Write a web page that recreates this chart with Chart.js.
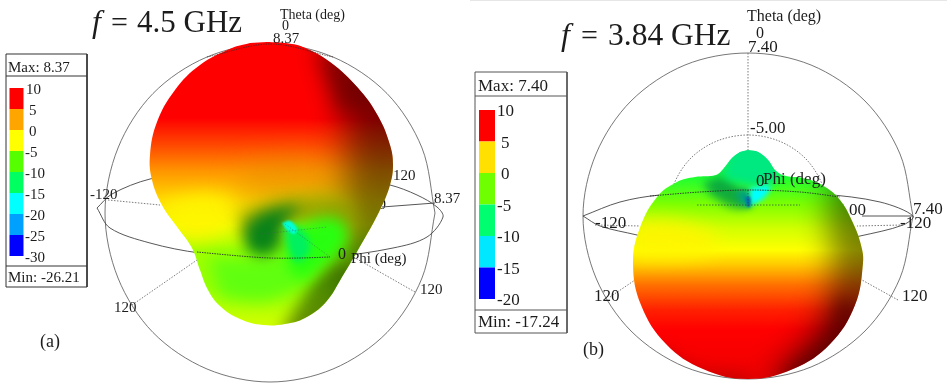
<!DOCTYPE html>
<html>
<head>
<meta charset="utf-8">
<style>html,body{margin:0;padding:0;background:#fff}canvas{display:block}</style>
<script src="https://cdn.jsdelivr.net/npm/chart.js@4"></script>
</head>
<body>
<canvas id="c" width="947" height="388"></canvas>
<script>
// values, all in picture units

// --- panel (a) ---
const sphereA = [[435,213],[422,148],[387,93.5],[333,57],[270,44],[207,57],[153,93.5],[118,148],[105,213],[118,278],[153,332.5],[207,369],[270,382],[333,369],[387,332.5],[422,278],[435,213]];
const ringA = [[97,208],[112,194],[150,179],[200,172],[270,170],[340,176],[390,185],[417,195],[437,207],[443,217],[427,237],[393,248],[330,257],[270,258],[200,253],[150,243],[110,228],[97,208]];
const ringFrontA = [[197,252],[240,256],[270,258],[300,258],[330,257]];
const lobeA = [[267,42],[285,43],[303,47],[330,62],[358,88],[378,116],[390,145],[393,165],[390,185],[380,210],[362,243],[342,277],[326,302],[305,318],[285,324],[263,325],[240,319],[220,306],[208,290],[200,270],[192,248],[178,228],[162,205],[152,180],[150,155],[157,122],[175,90],[200,65],[232,48],[250,43]];
const lobeStopsA = [[42,'#ff0000'],[118,'#ff0000'],[145,'#ff4800'],[172,'#ff9800'],[200,'#ffd800'],[225,'#f0ff00'],[250,'#a0ff00'],[285,'#98ff00'],[325,'#d0ff00']];
const spokesA = [[[108,200],[160,205]],[[132,305],[197,260]],[[415,292],[350,255]]];
const spokesOnA = [[[262,234],[327,227]],[[285,224],[330,257]]];
const axisRightA = [[435,203],[382,207]];
const patchesA = [
  {color:'rgba(255,245,0,.9)', blur:9, pts:[[160,205],[205,195],[235,205],[225,228],[190,240],[172,228]]},
  {color:'rgba(225,135,0,.45)', blur:14, pts:[[245,165],[310,160],[335,190],[270,205],[235,195]]},
  {color:'rgba(0,0,0,.5)', blur:17, pts:[[322,35],[410,35],[410,260],[350,300],[335,240],[345,170],[345,110]]},
  {color:'rgba(90,0,0,.55)', blur:9, pts:[[318,48],[352,70],[370,105],[338,112]]},
  {color:'rgba(40,80,0,.65)', blur:8, pts:[[295,310],[318,275],[345,262],[362,290],[315,335],[280,335]]},
  {color:'rgba(140,160,0,.85)', blur:8, pts:[[240,212],[295,196],[350,204],[352,236],[290,226],[240,238]]},
  {color:'#60ff10', blur:8, pts:[[208,258],[250,258],[300,258],[305,280],[270,300],[222,298]]},
  {color:'#28ff10', blur:7, pts:[[285,228],[335,218],[348,238],[325,265],[300,280],[285,262]]},
  {color:'rgba(0,125,25,.95)', blur:7, pts:[[245,226],[266,212],[300,208],[284,222],[280,246],[262,256],[245,248]]},
  {color:'#00f060', blur:3.5, pts:[[284,226],[300,228],[310,248],[297,262],[288,248]]},
  {color:'#00ffd8', blur:1.2, pts:[[282,223],[290,221],[297,229],[294,234],[286,229]]}
];
const scaleEdgesA = [88,109,130,151,172,193,214,235,256];
const scaleColorsA = ['#ff0000','#ffa500','#ffff00','#55ff00','#00ff60','#00ffff','#00a0ff','#0000ff'];
const scaleLabelsA = ['10','5','0','-5','-10','-15','-20','-25','-30'];
const boxA = [[6,54],[87,54],[87,287],[6,287],[6,54]];
const boxLinesA = [[[6,76],[87,76]],[[6,266],[87,266]]];

// --- panel (b) ---
const sphereB = [[913,216],[900,154],[865,101],[811,65],[748,53],[685,65],[631,101],[596,154],[583,216],[596,278],[631,331],[685,367],[748,379],[811,367],[865,331],[900,278],[913,216]];
const ringB = [[583,216],[620,202],[660,195],[748,190],[822,194],[880,202],[913,216],[903,225],[860,236],[800,248],[748,250],[690,248],[637,235],[600,226],[583,216]];
const ringBackB = [[650,196],[700,192],[748,190],[800,192],[840,197]];
const innerB = [[828,215],[822,184],[805,158],[779,141],[748,135],[717,141],[691,158],[674,184],[668,215]];
const lobeB = [[748,150],[758,152],[768,160],[776,171],[786,176],[803,178],[822,185],[840,200],[853,223],[861,245],[863,263],[855,305],[830,344],[793,369],[748,379],[703,369],[666,344],[641,305],[633,263],[640,228],[657,197],[677,182],[695,177],[716,175],[724,168],[732,158],[740,152]];
const lobeStopsB = [[150,'#00e878'],[178,'#20ff30'],[205,'#80ff00'],[228,'#d0ff00'],[250,'#ffff00'],[265,'#ffc800'],[285,'#ff7000'],[310,'#ff2000'],[330,'#ff0000'],[379,'#f00000']];
const spokesB = [[[748,53],[748,150]],[[595,225],[640,226]],[[610,297],[635,280]],[[898,300],[862,280]],[[903,225],[857,226]]];
const spokesOnB = [[[697,205],[800,205]],[[748,190],[748,206]]];
const axisRightB = [[913,216],[862,216]];
const patchesB = [
  {color:'rgba(255,245,0,.9)', blur:9, pts:[[630,220],[680,222],[720,240],[700,255],[630,258]]},
  {color:'rgba(0,0,0,.48)', blur:15, pts:[[835,170],[890,170],[890,360],[790,400],[775,378],[820,320],[832,260],[825,215]]},
  {color:'rgba(70,0,0,.5)', blur:8, pts:[[782,378],[825,335],[842,295],[860,330],[820,390]]},
  {color:'rgba(120,0,0,.3)', blur:8, pts:[[660,345],[700,368],[748,375],[748,395],[650,370]]},
  {color:'rgba(0,150,70,.8)', blur:5, pts:[[702,183],[725,177],[750,203],[735,208],[712,196]]},
  {color:'#00e880', blur:4, pts:[[735,148],[765,148],[778,178],[762,186],[735,182],[722,176]]},
  {color:'#00a080', blur:3, pts:[[735,192],[748,190],[750,207],[742,205]]},
  {color:'#00ffff', blur:2.5, pts:[[750,188],[770,186],[764,198],[750,206]]},
  {color:'#0070b0', blur:.8, pts:[[745,197],[750,197],[750,207],[747,207]]}
];
const scaleEdgesB = [110,141.5,173,204.5,236,267.5,299];
const scaleColorsB = ['#ff0000','#ffe000','#70ff00','#00ff70','#00e8ff','#0000ff'];
const scaleLabelsB = ['10','5','0','-5','-10','-15','-20'];
const boxB = [[475,72],[567,72],[567,333],[475,333],[475,72]];
const boxLinesB = [[[475,96],[567,96]],[[475,310],[567,310]]];

const topEdge = [[470,0.5],[947,0.5]];

// text: [string, x, y, size, align]
const textBehind = [
  ['-5.00',386,205,15,'right'],
  ['-5.00',866,211,17,'right']
];
const textFront = [
  ['=',111,32,30,'left','base'],['4.5 GHz',137,32,31,'left','base'],
  ['Theta (deg)',280,15,14,'left'],['0',282,26,14,'left'],['8.37',273,39,15,'left'],
  ['-120',90,195,15,'left'],['120',114,308,15,'left'],['120',393,176,15,'left'],['8.37',434,199,15,'left'],
  ['0',338,255,16,'left'],['Phi (deg)',351,259,15,'left'],['120',420,290,15,'left'],
  ['(a)',40,342,18,'left'],
  ['Max: 8.37',8,68,15,'left'],['Min: -26.21',8,278,15,'left'],
  ['=',581,45,30,'left','base'],['3.84 GHz',608,45,31.5,'left','base'],
  ['Theta (deg)',747,17,16,'left'],['0',756,34,16,'left'],['7.40',748,48,17,'left'],
  ['-5.00',750,129,17,'left'],['0',756,182,17,'left'],['Phi (deg)',763,180,17,'left'],
  ['7.40',913,210,17,'left'],['-120',900,224,17,'left'],['-120',595,224,17,'left'],
  ['120',594,297,17,'left'],['120',902,297,17,'left'],
  ['(b)',583,350,18,'left'],
  ['Max: 7.40',478,87,17,'left'],['Min: -17.24',478,323,17,'left']
];
const textItalic = [['f',92,32,32],['f',561,45,32]];

const toXY = pts => pts.map(p => ({x:p[0], y:p[1]}));
const datasets = [];

function outline(pts, color, width, dash) {
  datasets.push({data:toXY(pts), showLine:true, pointRadius:0, tension:0.33,
    borderColor:color, borderWidth:width, borderDash:dash || []});
}
function straight(pts, color, width, dash) {
  outline(pts, color, width, dash);
  datasets[datasets.length-1].tension = 0;
}
function shape(pts, paint, tension, blur, clipTo) {
  datasets.push({data:toXY(pts), showLine:true, pointRadius:0, tension:tension,
    borderWidth:0, borderColor:'transparent', paint:paint, blur:blur || 0, clipTo:clipTo});
  return datasets.length - 1;
}
function colorScale(edges, colors, x0, x1) {
  colors.forEach((c,i) => {
    shape([[x0,edges[i]],[x1,edges[i]],[x1,edges[i+1]],[x0,edges[i+1]]], c, 0);
  });
}

const GREY = 'rgba(95,95,95,.85)';
const DOT = 'rgba(90,90,90,.8)';

// panel (a), back to front
straight(topEdge, '#e6e6e6', 1);
outline(sphereA, GREY, 1);
outline(ringA, 'rgba(70,70,70,.9)', 1);
spokesA.forEach(s => straight(s, DOT, 1, [1.5,1.5]));
straight(axisRightA, '#555', 1);
const lobeIdxA = shape(lobeA, {stops:lobeStopsA}, 0.4);
patchesA.forEach(p => shape(p.pts, p.color, 0.4, p.blur, lobeIdxA));
spokesOnA.forEach(s => straight(s, 'rgba(70,90,90,.4)', 1, [1.5,1.5]));
outline(sphereA.slice(3,6), 'rgba(60,40,40,.7)', 1, [1.5,1]);
outline(ringFrontA, 'rgba(40,50,40,.9)', 1, [1.5,1]);
straight(boxA, '#333', 1);
boxLinesA.forEach(s => straight(s, '#333', 1));
colorScale(scaleEdgesA, scaleColorsA, 9.5, 23.5);

// panel (b), back to front
outline(sphereB, GREY, 1);
outline(ringB, 'rgba(70,70,70,.9)', 1);
outline(innerB, DOT, 1, [1.5,1.5]);
spokesB.forEach(s => straight(s, DOT, 1, [1.5,1.5]));
straight(axisRightB, '#555', 1);
const lobeIdxB = shape(lobeB, {stops:lobeStopsB}, 0.4);
patchesB.forEach(p => shape(p.pts, p.color, 0.4, p.blur, lobeIdxB));
spokesOnB.forEach(s => straight(s, 'rgba(40,70,70,.7)', 1, [1.5,1.5]));
outline(ringBackB, 'rgba(40,50,40,.9)', 1, [1.5,1]);
straight(boxB, '#555', 1);
boxLinesB.forEach(s => straight(s, '#555', 1));
colorScale(scaleEdgesB, scaleColorsB, 479, 495);

datasets.forEach((d,i) => { d.order = datasets.length - i; });

function tracePath(ctx, chart, idx) {
  ctx.beginPath();
  chart.getDatasetMeta(idx).dataset.path(ctx);
  ctx.closePath();
}

function drawTexts(chart, list, family, style) {
  const ctx = chart.ctx, sx = chart.scales.x, sy = chart.scales.y;
  ctx.save();
  ctx.fillStyle = '#1c1c1c';
  list.forEach(t => {
    ctx.font = (style || '') + ' ' + t[3] + 'px ' + family;
    ctx.textAlign = t[4] || 'left';
    ctx.textBaseline = t[5] === 'base' ? 'alphabetic' : 'middle';
    ctx.fillText(t[0], sx.getPixelForValue(t[1]), sy.getPixelForValue(t[2]));
  });
  ctx.restore();
}

const SERIF = '"Liberation Serif", serif';

const pictureLayers = {
  id: 'pictureLayers',
  beforeDatasetsDraw(chart) { drawTexts(chart, textBehind, SERIF); },
  beforeDatasetDraw(chart, args) {
    const d = chart.data.datasets[args.index];
    if (!d.paint) return;
    const ctx = chart.ctx, sy = chart.scales.y;
    ctx.save();
    if (d.clipTo !== undefined) { tracePath(ctx, chart, d.clipTo); ctx.clip(); }
    if (d.blur) ctx.filter = 'blur(' + d.blur + 'px)';
    if (d.paint.stops) {
      const s = d.paint.stops;
      const y0 = sy.getPixelForValue(s[0][0]), y1 = sy.getPixelForValue(s[s.length-1][0]);
      const g = ctx.createLinearGradient(0, y0, 0, y1);
      s.forEach(p => g.addColorStop((sy.getPixelForValue(p[0]) - y0) / (y1 - y0), p[1]));
      ctx.fillStyle = g;
    } else {
      ctx.fillStyle = d.paint;
    }
    tracePath(ctx, chart, args.index);
    ctx.fill();
    ctx.restore();
  },
  afterDatasetsDraw(chart) {
    drawTexts(chart, textFront, SERIF);
    drawTexts(chart, textItalic.map(t => [t[0],t[1],t[2],t[3],'left','base']), SERIF, 'italic');
    // colour scale labels
    const a = scaleLabelsA.map((l,i) => [l, l.length > 1 && l[0] !== '-' ? 26 : (l.length === 1 ? 29 : 25), scaleEdgesA[i] + 2, 15, 'left']);
    const b = scaleLabelsB.map((l,i) => [l, l.length > 1 && l[0] !== '-' ? 497 : (l.length === 1 ? 501 : 497), scaleEdgesB[i] + 2, 17, 'left']);
    drawTexts(chart, a.concat(b), SERIF);
  }
};

new Chart(document.getElementById('c'), {
  type: 'scatter',
  data: { datasets },
  options: {
    responsive: false,
    animation: false,
    layout: { padding: 0 },
    plugins: { legend: { display: false }, tooltip: { enabled: false } },
    events: [],
    scales: {
      x: { type: 'linear', min: 0, max: 947, display: false },
      y: { type: 'linear', min: 0, max: 388, reverse: true, display: false }
    }
  },
  plugins: [pictureLayers]
});
</script>
</body>
</html>
